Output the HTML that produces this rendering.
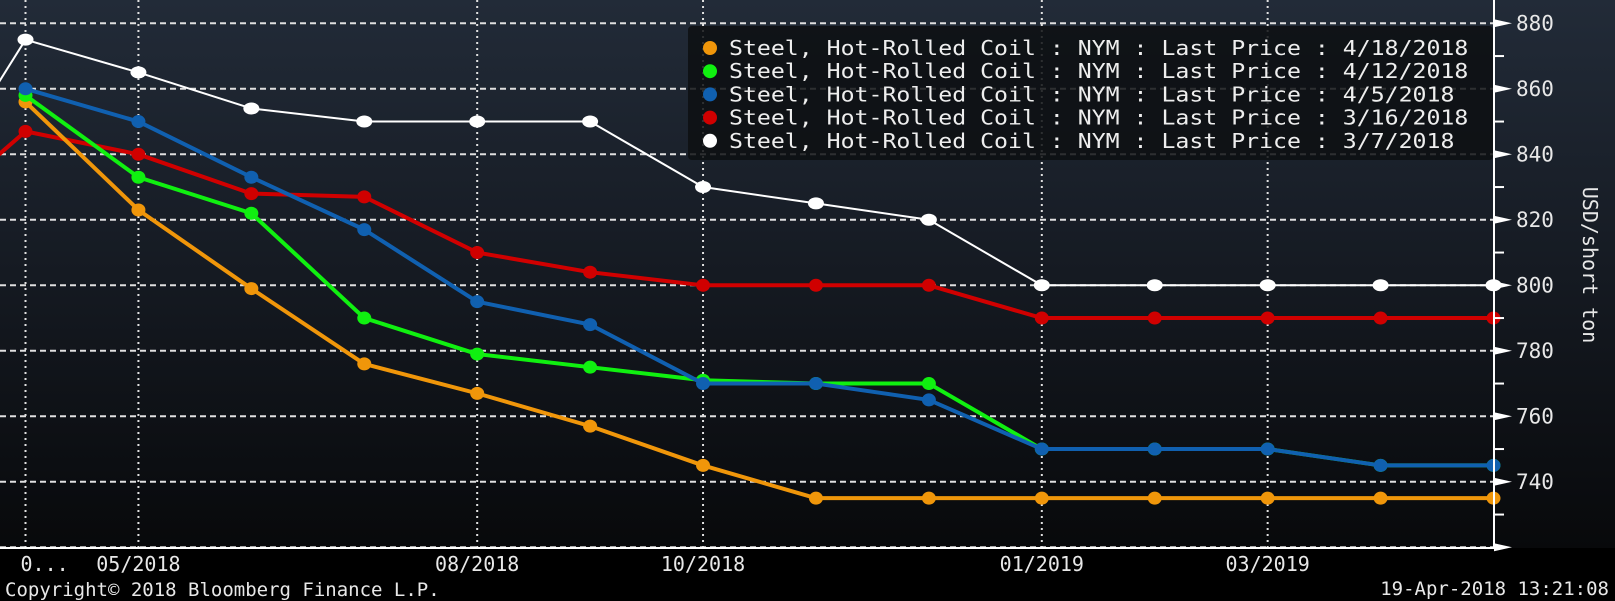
<!DOCTYPE html>
<html><head><meta charset="utf-8"><style>
html,body{margin:0;padding:0;background:#000;}
svg{display:block;font-family:"DejaVu Sans Mono","Liberation Mono",monospace;}
</style></head><body>
<svg id="chart" width="1615" height="601" viewBox="0 0 1615 601" xmlns="http://www.w3.org/2000/svg">
<defs>
<linearGradient id="bg" x1="0" y1="0" x2="0" y2="1">
<stop offset="0" stop-color="#222b38"/><stop offset="0.5" stop-color="#151a22"/><stop offset="1" stop-color="#08090b"/>
</linearGradient>
</defs>
<rect x="0" y="0" width="1615" height="601" fill="#000"/>
<rect x="0" y="0" width="1615" height="548" fill="url(#bg)"/>
<g id="grid"></g>
<g id="series"></g>
<g id="axis"></g>
<g id="legend"></g>
<text x="5" y="596" fill="#e8e8e8" font-size="19">Copyright© 2018 Bloomberg Finance L.P.</text>
<text x="1609" y="595" fill="#e8e8e8" font-size="19" text-anchor="end">19-Apr-2018 13:21:08</text>
<text transform="translate(1583,265) rotate(90)" fill="#e8e8e8" font-size="20" text-anchor="middle">USD/short ton</text>
</svg>
<script>
const months = ["Apr18","May18","Jun18","Jul18","Aug18","Sep18","Oct18","Nov18","Dec18","Jan19","Feb19","Mar19","Apr19","May19"];
const apr18 = [856,823,799,776,767,757,745,735,735,735,735,735,735,735];
const apr12 = [858,833,822,790,779,775,771,770,770,750,750,750,745,745];
const apr5 = [860,850,833,817,795,788,770,770,765,750,750,750,745,745];
const mar16 = [847,840,828,827,810,804,800,800,800,790,790,790,790,790];
const mar7 = [875,865,854,850,850,850,830,825,820,800,800,800,800,800];
const mar16Prior = 817;
const mar7Prior = 820;
const yTicks = [880,860,840,820,800,780,760,740];
const xTickIdx = [0,1,4,6,9,11];
const xTickLabels = ["0...","05/2018","08/2018","10/2018","01/2019","03/2019"];
const legendLabels = ["Steel, Hot-Rolled Coil : NYM : Last Price : 4/18/2018","Steel, Hot-Rolled Coil : NYM : Last Price : 4/12/2018","Steel, Hot-Rolled Coil : NYM : Last Price : 4/5/2018","Steel, Hot-Rolled Coil : NYM : Last Price : 3/16/2018","Steel, Hot-Rolled Coil : NYM : Last Price : 3/7/2018"];

const NS="http://www.w3.org/2000/svg";
const X0=25.5, DX=(1493.5-25.5)/13;
const xs=i=>X0+i*DX;
const ys=v=>23.3+(880-v)*3.275;
function mk(tag,attrs,parent){const e=document.createElementNS(NS,tag);for(const k in attrs)e.setAttribute(k,attrs[k]);parent.appendChild(e);return e;}
const grid=document.getElementById('grid'),ser=document.getElementById('series'),ax=document.getElementById('axis'),leg=document.getElementById('legend');

// horizontal grid
yTicks.concat([720]).forEach(v=>{
  const l=mk('line',{x1:0,x2:1493,y1:ys(v),y2:ys(v),stroke:'#e0e0e0','stroke-width':2,'stroke-dasharray':'6 4'},grid);
  
  
});
xTickIdx.forEach((i,k)=>{
  const l=mk('line',{x1:xs(i),x2:xs(i),y1:0,y2:548,stroke:'#e0e0e0','stroke-width':2,'stroke-dasharray':'2 4'},grid);
  
  
  const t=mk('text',{x:xs(i)+(k===0?-5:0),y:571,fill:'#e8e8e8','font-size':20,'text-anchor':k===0?'start':'middle'},ax);
  t.textContent=xTickLabels[k];
  
  
});

// series
const series=[
 {d:mar7,c:'#ffffff',w:2,prior:mar7Prior,name:'series-3-7-2018'},
 {d:mar16,c:'#d00000',w:4,prior:mar16Prior,name:'series-3-16-2018'},
 {d:apr5,c:'#1060b0',w:4,name:'series-4-5-2018'},
 {d:apr12,c:'#10f010',w:4,name:'series-4-12-2018'},
 {d:apr18,c:'#f0960a',w:4,name:'series-4-18-2018'}
];
// draw order: green under blue at the end
const order=[0,1,4,3,2];
order.forEach(si=>{
  const s=series[si];
  const g=mk('g',{},ser);
  
  
  let pts=s.d.map((v,i)=>xs(i)+','+ys(v));
  if(s.prior!==undefined)pts.unshift(xs(-1)+','+ys(s.prior));
  const pl=mk('polyline',{points:pts.join(' '),fill:'none',stroke:s.c,'stroke-width':s.w,'stroke-linejoin':'round'},g);
  
  
  s.d.forEach((v,i)=>{
    const m=mk('ellipse',{cx:xs(i),cy:ys(v),rx:s.w===2?8:7,ry:s.w===2?6:6.5,fill:s.c},g);
    
    
  });
});

// right axis
const axl=mk('line',{x1:1494,x2:1494,y1:0,y2:549,stroke:'#fff','stroke-width':2},ax);


const xal=mk('line',{x1:0,x2:1495,y1:548,y2:548,stroke:'#fff','stroke-width':2},ax);


yTicks.concat([720]).forEach(v=>{
  const y=ys(v);
  const tr=mk('polygon',{points:`1494,${y-4} 1512,${y} 1494,${y+4}`,fill:'#fff'},ax);
  
  
  if(v<880){const mn=mk('line',{x1:1494,x2:1504,y1:ys(v+10),y2:ys(v+10),stroke:'#fff','stroke-width':2},ax);
  
  }
  if(v>720){const t=mk('text',{x:1516,y:y+7,fill:'#e8e8e8','font-size':21},ax);
  t.textContent=v;
  
  }
});

// legend
const lb=mk('rect',{x:688,y:26,width:805,height:134,rx:4,fill:'#0d0f12','fill-opacity':0.85},leg);


const lcol=['#f0960a','#10f010','#1060b0','#d00000','#ffffff'];
legendLabels.forEach((s,i)=>{
  const y=48+i*23.2;
  const g=mk('g',{},leg);
  
  
  mk('circle',{cx:710,cy:y,r:7,fill:lcol[i]},g);
  const t=mk('text',{x:729,y:y+7,fill:'#eeeeee','font-size':20,textLength:s.length*13.95,lengthAdjust:'spacingAndGlyphs'},g);
  t.textContent=s;
});
</script>
</body></html>
